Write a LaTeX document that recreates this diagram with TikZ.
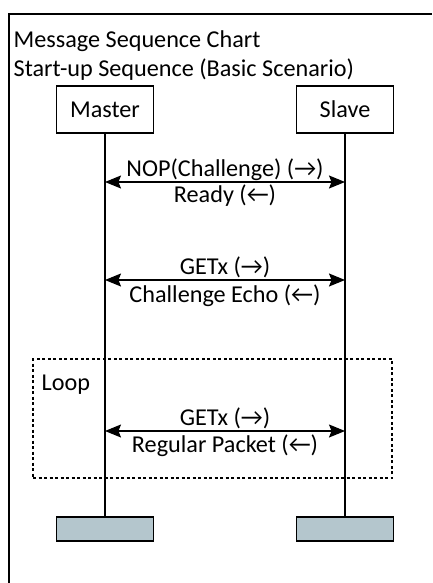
\documentclass[tikz,border=0pt]{standalone}
\usepackage{fontspec}
\setmainfont{Carlito}
\usetikzlibrary{arrows.meta}
\definecolor{endfill}{RGB}{180,198,205}
\newcommand{\myra}{\char"2192}
\newcommand{\myla}{\char"2190}
\begin{document}
\begin{tikzpicture}[x=1pt,y=-1pt, font=\fontsize{24.2}{29}\selectfont, line width=1.4pt,
  actor/.style={draw, line width=1.5pt, minimum width=97pt, minimum height=47pt, inner sep=0pt},
  endbox/.style={draw, fill=endfill, line width=1.6pt, minimum width=97pt, minimum height=24pt, inner sep=0pt},
  msg/.style={{Stealth[length=16pt,width=13pt,inset=2.5pt]}-{Stealth[length=16pt,width=13pt,inset=2.5pt]}, line width=1.2pt},
  lbl/.style={anchor=base, inner sep=0pt},
  txt/.style={anchor=base west, inner sep=0pt},
  loopbox/.style={draw, line width=1.2pt, dash pattern=on 3pt off 2.5pt, minimum width=359pt, minimum height=119pt, inner sep=0pt}]
\useasboundingbox (0,0) rectangle (432,583);
\draw[line width=1.6pt] (9,583) -- (9,14) -- (432,14);
\node[txt] (t1) at (13,47.5) {Message Sequence Chart};
\node[txt] (t2) at (13,77) {Start-up Sequence (Basic Scenario)};
\node[loopbox] (loop) at (212.5,418.5) {};
\node[txt] (looplbl) at (41,390) {Loop};
\node[actor] (master) at (105,109.5) {Master};
\node[actor] (slave) at (345,109.5) {Slave};
\node[endbox] (mend) at (105,529) {};
\node[endbox] (send) at (345,529) {};
\draw (master) -- (mend);
\draw (slave) -- (send);
\coordinate (m1) at (105,182); \coordinate (s1) at (345,182);
\coordinate (m2) at (105,280); \coordinate (s2) at (345,280);
\coordinate (m3) at (105,431); \coordinate (s3) at (345,431);
\draw[msg] (m1) -- (s1);
\draw[msg] (m2) -- (s2);
\draw[msg] (m3) -- (s3);
\node[lbl] (a1) at (225,176.5) {NOP(Challenge) (\myra)};
\node[lbl] (b1) at (225,202) {Ready (\myla)};
\node[lbl] (a2) at (225,274) {GETx (\myra)};
\node[lbl] (b2) at (225,302) {Challenge Echo (\myla)};
\node[lbl] (a3) at (225,425) {GETx (\myra)};
\node[lbl] (b3) at (225,452) {Regular Packet (\myla)};
\end{tikzpicture}
\end{document}
